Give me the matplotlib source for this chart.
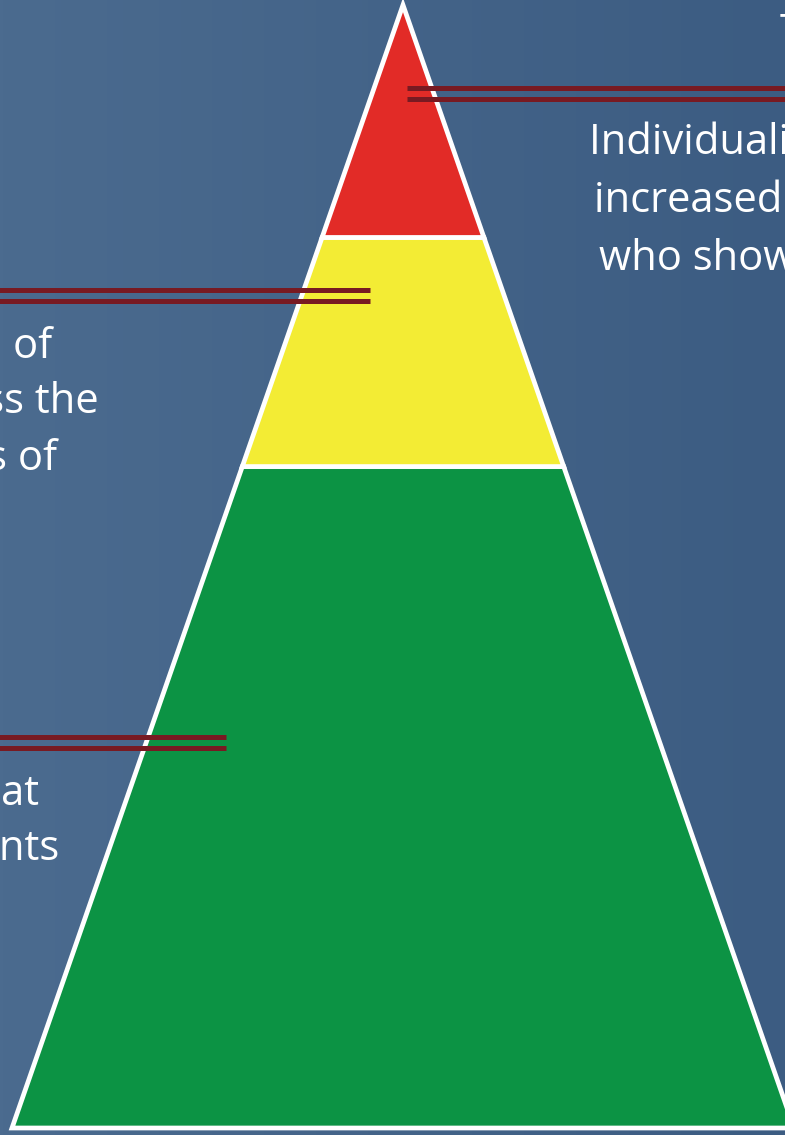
import numpy as np
import matplotlib.pyplot as plt
from matplotlib.patches import Polygon
from matplotlib.colors import LinearSegmentedColormap

# tiers from the base of the pyramid up to the apex
tiers = ["Tier 1", "Tier 2", "Tier 3"]
tier_share = [0.589, 0.204, 0.207]   # share of the pyramid height
tier_colors = ["#0c9344", "#f3ec34", "#e22b27"]

tier3_text = ["Individualized interventions of",
              "increased intensity for students",
              "who show minimal response"]
tier2_text = ["Supplemental instruction of",
              "students who miss the",
              "expectations of"]
tier1_text = ["Core instruction that",
              "reaches all students"]
title_text = "Tier 3"

# canvas in pixels
W, H = 785, 1135
APEX_X, APEX_Y = 403, 5
BASE_Y = 1128
BASE_HALF = 391
PYR_H = BASE_Y - APEX_Y

BG_LEFT = "#4b6b8f"
BG_RIGHT = "#3c5c82"
LINE_COLOR = "#781a22"
FONT = ["Open Sans", "DejaVu Sans"]
FS = 30

fig = plt.figure(figsize=(W / 100, H / 100), dpi=100)
ax = fig.add_axes([0, 0, 1, 1])
ax.set_xlim(0, W)
ax.set_ylim(H, 0)
ax.axis("off")

# background gradient
cmap = LinearSegmentedColormap.from_list("bg", [BG_LEFT, BG_RIGHT])
ax.imshow(np.linspace(0, 1, 256)[None, :], cmap=cmap, aspect="auto",
          extent=[0, W, H, 0], zorder=0)


def level_y(l):
    return BASE_Y - l * PYR_H


def half_w(l):
    return BASE_HALF * (1 - l)


# pyramid tiers
bounds = np.concatenate([[0], np.cumsum(tier_share)])
bounds[-1] = 1.0
for i, name in enumerate(tiers):
    l0, l1 = bounds[i], bounds[i + 1]
    pts = [(APEX_X - half_w(l0), level_y(l0)), (APEX_X + half_w(l0), level_y(l0))]
    if l1 >= 1.0:
        pts.append((APEX_X, level_y(l1)))
    else:
        pts += [(APEX_X + half_w(l1), level_y(l1)), (APEX_X - half_w(l1), level_y(l1))]
    ax.add_patch(Polygon(pts, closed=True, facecolor=tier_colors[i],
                         edgecolor="white", lw=3.4, joinstyle="miter", zorder=2))

# double callout lines
callouts = [((407, 800), (88, 99)),
            ((-10, 370), (290, 301)),
            ((-10, 226), (737, 748))]
for (x0, x1), ys in callouts:
    for y in ys:
        ax.plot([x0, x1], [y, y], color=LINE_COLOR, lw=3.6,
                solid_capstyle="butt", zorder=3)

# descriptions
tkw = dict(color="white", fontsize=FS, family=FONT, va="baseline", zorder=4)
for txt, x, y in zip(tier3_text, [589, 594, 599], [154, 212, 270]):
    ax.text(x, y, txt, ha="left", **tkw)
for txt, x, y in zip(tier2_text, [52, 99, 57], [358, 413, 470]):
    ax.text(x, y, txt, ha="right", **tkw)
for txt, x, y in zip(tier1_text, [39, 59], [805, 860]):
    ax.text(x, y, txt, ha="right", **tkw)
ax.text(780, 44, title_text, ha="left", **tkw)

fig.savefig("out.png", dpi=100)
